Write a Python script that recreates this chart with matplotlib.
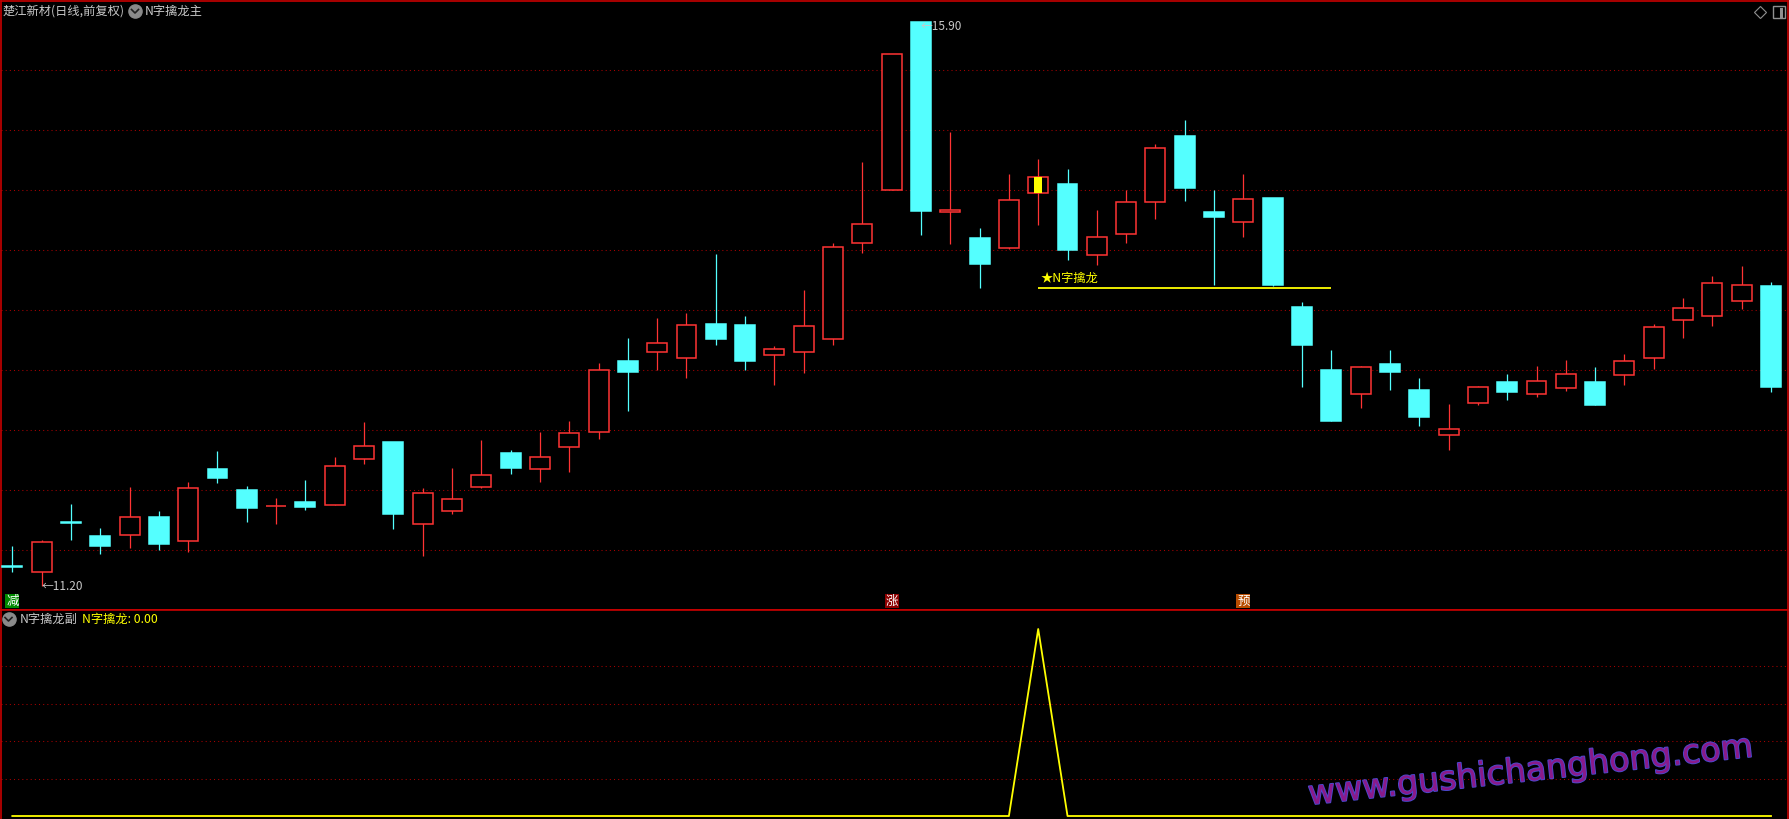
import matplotlib
matplotlib.use('Agg')
import matplotlib.pyplot as plt
from matplotlib.lines import Line2D
import matplotlib.patheffects as pe
import matplotlib.transforms as mtransforms

plt.rcParams['font.family'] = ['Noto Sans CJK SC', 'DejaVu Sans']

# ---------------- data ----------------
opens = [11.37, 11.32, 11.74, 11.62, 11.63, 11.78, 11.58, 12.18, 12.00, 11.87,
         11.90, 11.88, 12.26, 12.40, 11.72, 11.83, 12.03, 12.31, 12.18, 12.36,
         12.49, 13.08, 13.15, 13.10, 13.39, 13.38, 13.13, 13.15, 13.26, 14.06,
         14.50, 15.90, 14.32, 14.10, 14.02, 14.48, 14.55, 13.96, 14.14, 14.40,
         14.95, 14.32, 14.24, 14.44, 13.53, 13.00, 12.80, 13.05, 12.84, 12.46,
         12.73, 12.90, 12.80, 12.85, 12.90, 12.96, 13.10, 13.42, 13.45, 13.58,
         13.70]
highs = [11.54, 11.59, 11.89, 11.69, 12.03, 11.83, 12.07, 12.33, 12.04, 11.94,
         12.09, 12.28, 12.57, 12.40, 12.02, 12.19, 12.42, 12.34, 12.49, 12.58,
         13.06, 13.27, 13.44, 13.48, 13.97, 13.45, 13.20, 13.67, 14.06, 14.74,
         15.64, 15.90, 14.99, 14.19, 14.64, 14.76, 14.68, 14.34, 14.50, 14.89,
         15.09, 14.50, 14.64, 14.44, 13.57, 13.17, 13.04, 13.17, 12.94, 12.72,
         12.87, 12.97, 13.04, 13.09, 13.03, 13.14, 13.39, 13.60, 13.79, 13.87,
         13.74]
lows = [11.32, 11.20, 11.59, 11.47, 11.52, 11.50, 11.49, 12.06, 11.74, 11.72,
        11.84, 11.88, 12.22, 11.68, 11.45, 11.80, 12.02, 12.14, 12.07, 12.15,
        12.43, 12.66, 13.00, 12.94, 13.21, 13.00, 12.88, 12.98, 13.21, 13.98,
        14.50, 14.13, 14.05, 13.69, 14.01, 14.21, 13.92, 13.88, 14.06, 14.26,
        14.41, 13.71, 14.11, 13.70, 12.86, 12.58, 12.69, 12.84, 12.54, 12.34,
        12.71, 12.75, 12.78, 12.83, 12.71, 12.88, 13.01, 13.27, 13.37, 13.51,
        12.82]
closes = [11.36, 11.57, 11.73, 11.54, 11.78, 11.55, 12.02, 12.10, 11.85, 11.87,
          11.86, 12.20, 12.37, 11.80, 11.98, 11.93, 12.13, 12.19, 12.28, 12.48,
          13.00, 12.99, 13.23, 13.38, 13.26, 13.08, 13.18, 13.37, 14.03, 14.22,
          15.64, 14.33, 14.34, 13.89, 14.42, 14.61, 14.00, 14.11, 14.40, 14.85,
          14.52, 14.28, 14.43, 13.71, 13.21, 12.58, 13.03, 12.99, 12.61, 12.51,
          12.86, 12.82, 12.91, 12.97, 12.71, 13.08, 13.36, 13.52, 13.73, 13.71,
          12.86]
signal = [0, 0, 0, 0, 0, 0, 0, 0, 0, 0,
          0, 0, 0, 0, 0, 0, 0, 0, 0, 0,
          0, 0, 0, 0, 0, 0, 0, 0, 0, 0,
          0, 0, 0, 0, 0, 1, 0, 0, 0, 0,
          0, 0, 0, 0, 0, 0, 0, 0, 0, 0,
          0, 0, 0, 0, 0, 0, 0, 0, 0, 0,
          0]
grid_prices = [11.5, 12.0, 12.5, 13.0, 13.5, 14.0, 14.5, 15.0, 15.5]
sub_grid = [0.2, 0.4, 0.6, 0.8]

stock_title = "楚江新材(日线,前复权)"
main_name = "N字擒龙主"
sub_name = "N字擒龙副"
sig_label = "N字擒龙: 0.00"
star_label = "★N字擒龙"
hi_idx, hi_label = 31, "15.90"
lo_idx, lo_label = 1, "11.20"
flag_idx = [0, 30, 42]
flag_text = ["减", "涨", "预"]
flag_bg = ["#008a00", "#8c0000", "#b84c00"]
signal_idx = 35
support_price = 13.69
support_end = 45
watermark = "www.gushichanghong.com"

# ---------------- styling ----------------
RED = "#ff3333"
CYAN = "#54ffff"
BORDER = "#c80000"
GRIDC = "#a80000"
GRAY = "#c8c8c8"
W, H = 1790, 819

fig = plt.figure(figsize=(W / 100, H / 100), dpi=100, facecolor="black")
ax = fig.add_axes([1 / W, 1 - 610 / H, 1787 / W, 609 / H])
ax2 = fig.add_axes([1 / W, 0, 1787 / W, 209 / H])

for a in (ax, ax2):
    a.set_facecolor("black")
    a.set_xticks([])
    a.set_yticks([])
    for s in a.spines.values():
        s.set_color(BORDER)
        s.set_linewidth(1.2)
ax2.spines["bottom"].set_visible(False)

xs = list(range(len(opens)))
ax.set_xlim(-0.386, 60.58)
ax2.set_xlim(-0.386, 60.58)
ax.set_ylim(11.004, 16.079)
ax2.set_ylim(-0.016, 1.1016)

# grid lines
for g in grid_prices:
    ax.axhline(g, color=GRIDC, lw=0.75, ls=(0, (1, 3)), zorder=1)
for g in sub_grid:
    ax2.axhline(g, color=GRIDC, lw=0.75, ls=(0, (1, 3)), zorder=1)

# candles
for i, (o, h, l, c) in enumerate(zip(opens, highs, lows, closes)):
    up = c >= o
    col = RED if up else CYAN
    ax.vlines(i, l, h, color=col, lw=0.9, zorder=2)
    bottom = min(o, c)
    height = abs(c - o)
    ax.bar(i, height, bottom=bottom, width=0.68,
           facecolor="black" if up else CYAN,
           edgecolor=col, linewidth=1.1, zorder=3)

# yellow fill for signal candle
o, c = opens[signal_idx], closes[signal_idx]
ax.bar(signal_idx, abs(c - o), bottom=min(o, c), width=0.27,
       color="#ffff00", linewidth=0, zorder=4)

# support line + label
ax.hlines(support_price, signal_idx, support_end, color="#ffff00", lw=1.3, zorder=4)
ax.annotate(star_label, xy=(signal_idx, support_price), xytext=(2, 2),
            textcoords="offset points", ha="left", va="bottom",
            color="#ffff00", fontsize=8.8, zorder=5)

# high / low labels
ax.annotate("←" + hi_label, xy=(hi_idx, highs[hi_idx]), xytext=(0, -3),
            textcoords="offset points", ha="left", va="center",
            color=GRAY, fontsize=8.5, zorder=5)
ax.annotate("←" + lo_label, xy=(lo_idx, lows[lo_idx]), xytext=(0, 0),
            textcoords="offset points", ha="left", va="center",
            color=GRAY, fontsize=8.5, zorder=5)

# flags at bottom of main panel
trans = mtransforms.blended_transform_factory(ax.transData, ax.transAxes)
for fi, ft, fb in zip(flag_idx, flag_text, flag_bg):
    ax.text(fi, 0.004, ft, transform=trans, ha="center", va="bottom",
            color="white", fontsize=9, zorder=6,
            bbox=dict(boxstyle="square,pad=0.06", facecolor=fb, edgecolor="none"))

# sub panel line
ax2.plot(xs, signal, color="#ffff00", lw=1.3, zorder=3)

# ---------------- header texts / icons ----------------
def fx(px):
    return px / W

def fy(py):
    return 1 - py / H

fig.text(fx(3), fy(11), stock_title, color=GRAY, fontsize=8.8, va="center", ha="left")
fig.add_artist(Line2D([fx(135)], [fy(11)], marker="o", markersize=9.5,
                      color="#8a8a8a", transform=fig.transFigure))
fig.add_artist(Line2D([fx(131.5), fx(135), fx(138.5)], [fy(9.5), fy(13), fy(9.5)],
                      color="#202020", lw=1.2, transform=fig.transFigure))
fig.text(fx(145), fy(11), main_name, color=GRAY, fontsize=8.8, va="center", ha="left")

# right icons
fig.add_artist(Line2D([fx(1760)], [fy(12)], marker="D", markersize=6.5,
                      markerfacecolor="none", markeredgecolor="#909090",
                      markeredgewidth=0.8, transform=fig.transFigure))
fig.add_artist(Line2D([fx(1779)], [fy(12)], marker="s", markersize=8.5,
                      markerfacecolor="none", markeredgecolor="#909090",
                      markeredgewidth=1.0, transform=fig.transFigure))
fig.add_artist(Line2D([fx(1781), fx(1781)], [fy(8.5), fy(15.5)],
                      color="#909090", lw=2.2, transform=fig.transFigure))

# sub panel header
fig.add_artist(Line2D([fx(8.5)], [fy(619)], marker="o", markersize=9.5,
                      color="#8a8a8a", transform=fig.transFigure))
fig.add_artist(Line2D([fx(5), fx(8.5), fx(12)], [fy(617.5), fy(621), fy(617.5)],
                      color="#202020", lw=1.2, transform=fig.transFigure))
fig.text(fx(20), fy(619), sub_name, color=GRAY, fontsize=8.8, va="center", ha="left")
fig.text(fx(82), fy(619), sig_label, color="#ffff00", fontsize=8.8, va="center", ha="left")

# watermark
wm = fig.text(fx(1531), fy(771), watermark, color="#8a1a8a", fontsize=24,
              family="DejaVu Sans", ha="center", va="center", rotation=6.2,
              zorder=10)
wm.set_path_effects([pe.withStroke(linewidth=1.3, foreground="#4a4ad0")])

fig.savefig("out.png", dpi=100, facecolor="black")
